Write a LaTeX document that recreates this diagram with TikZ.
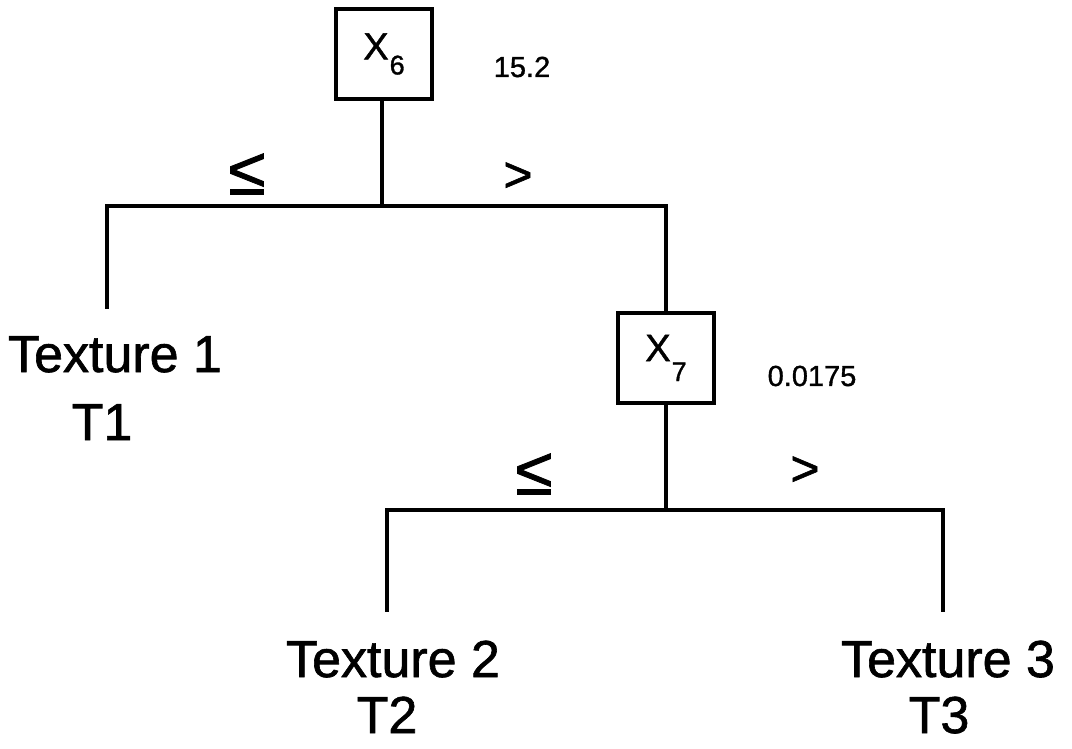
\documentclass[tikz,border=0pt]{standalone}
\usepackage{fontspec}
\setmainfont{Liberation Sans}[FakeBold=1.2]
\newfontfamily\heavyfont{Liberation Sans}[FakeBold=1.2]
\begin{document}
\begin{tikzpicture}[x=1pt,y=-1pt,
  treeline/.style={line width=4.5pt,line join=miter,line cap=rect},
  splitbox/.style={draw,line width=4.5pt,minimum width=96pt,minimum height=90pt,inner sep=0pt},
  leaflabel/.style={anchor=base,inner sep=0pt,font=\heavyfont\fontsize{52}{52}\selectfont},
  cutlabel/.style={inner sep=0pt,font=\heavyfont\fontsize{29}{29}\selectfont},
  relabel/.style={inner sep=0pt,font=\heavyfont\fontsize{50}{50}\selectfont},
  lelabel/.style={inner sep=0pt,font=\heavyfont\fontsize{68}{68}\selectfont}]
\useasboundingbox (0,0) rectangle (1072,749);
% split nodes
\node[splitbox] (x6) at (384,54) {\heavyfont\fontsize{38}{38}\selectfont X\kern1pt\raisebox{-15pt}{\fontsize{27}{27}\selectfont 6}};
\node[splitbox] (x7) at (666,358) {\heavyfont\fontsize{38}{38}\selectfont X\kern1pt\raisebox{-20pt}{\fontsize{27}{27}\selectfont 7}};
\node[cutlabel] (c6) at (522,67) {15.2};
\node[cutlabel] (c7) at (812,376) {0.0175};
% branch labels
\node[lelabel] (le1) at (247,174) {≤};
\node[relabel] (gt1) at (518,177) {>};
\node[lelabel] (le2) at (534,474) {≤};
\node[relabel] (gt2) at (805,471) {>};
% leaves
\node[leaflabel] (t1) at (115,372) {Texture 1};
\node[leaflabel] (t1b) at (102,440) {T1};
\node[leaflabel] (t2) at (393,677) {Texture 2};
\node[leaflabel] (t2b) at (387,733) {T2};
\node[leaflabel] (t3) at (948,677) {Texture 3};
\node[leaflabel] (t3b) at (939,733) {T3};
% junction coordinates
\coordinate (j6) at (382,206);
\coordinate (l6) at (107,206);
\coordinate (r6) at (666,206);
\coordinate (e1) at (107,307);
\coordinate (j7) at (666,510);
\coordinate (l7) at (387,510);
\coordinate (r7) at (943,510);
\coordinate (e2) at (387,610);
\coordinate (e3) at (943,610);
% connectors
\draw[treeline] (x6.south -| j6) -- (j6);
\draw[treeline] (e1) -- (l6) -- (r6) -- (x7.north);
\draw[treeline] (x7.south) -- (j7);
\draw[treeline] (e2) -- (l7) -- (r7) -- (e3);
\end{tikzpicture}
\end{document}
